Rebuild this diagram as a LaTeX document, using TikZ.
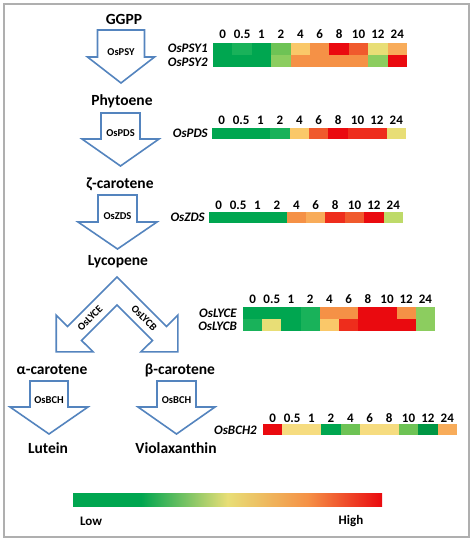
\documentclass[tikz,border=0pt]{standalone}
\usepackage{fontspec}
\setmainfont{Carlito}
\definecolor{arrowblue}{RGB}{84,132,190}
\definecolor{framegray}{RGB}{175,175,175}
\definecolor{hmG}{RGB}{0,166,80}
\definecolor{hmGb}{RGB}{25,178,90}
\definecolor{hmDG}{RGB}{0,150,68}
\definecolor{hmLG}{RGB}{110,195,85}
\definecolor{hmLGb}{RGB}{140,205,95}
\definecolor{hmYG}{RGB}{190,218,105}
\definecolor{hmY}{RGB}{232,222,118}
\definecolor{hmLY}{RGB}{246,220,128}
\definecolor{hmLO}{RGB}{250,200,105}
\definecolor{hmLOb}{RGB}{248,172,90}
\definecolor{hmO}{RGB}{245,145,70}
\definecolor{hmOR}{RGB}{240,90,45}
\definecolor{hmRO}{RGB}{238,45,28}
\definecolor{hmR}{RGB}{234,10,15}
\pgfdeclarehorizontalshading{lowhigh}{100bp}{color(0bp)=(hmG); color(25bp)=(hmG); color(36bp)=(hmG); color(50bp)=(hmY); color(63bp)=(hmO); color(75bp)=(hmR); color(100bp)=(hmR)}

\begin{document}
\begin{tikzpicture}[x=1pt,y=-1pt,
  compound/.style={inner sep=0pt,font=\fontsize{15.5}{17}\selectfont\bfseries},
  gene/.style={anchor=east,inner sep=0pt,font=\fontsize{13}{15}\selectfont\bfseries\itshape},
  num/.style={anchor=base,inner sep=0pt,font=\fontsize{13}{15}\selectfont\bfseries},
  enz/.style={inner sep=0pt,font=\fontsize{10.5}{12}\selectfont\bfseries},
  pathway/.style={draw=arrowblue,line width=1.6pt,line join=miter,fill=white}]
\useasboundingbox (0,0) rectangle (474,543);
\draw[framegray,line width=1.2pt] (4,4) rectangle (469,537);

% compounds
\node[compound] (ggpp) at (124,19) {GGPP};
\node[compound] (phyt) at (122,101) {Phytoene};
\node[compound] (zcar) at (120,184) {ζ-carotene};
\node[compound] (lyc) at (118,262) {Lycopene};
\node[compound] (acar) at (52,370) {α-carotene};
\node[compound] (bcar) at (180,370) {β-carotene};
\node[compound] (lut) at (48,448) {Lutein};
\node[compound] (viol) at (176,448) {Violaxanthin};

% block arrows
\foreach \cx/\ty/\sw/\wy/\ww/\tipy in {121/30/23.5/57/33.5/83, 120.5/113/19.5/139/38.5/166,
    117.5/195/19.5/222/39.5/249, 49/381/19/407/39/434, 176.5/381/19.5/407/38.5/434}
  \draw[pathway] (\cx-\sw,\ty) -- (\cx+\sw,\ty) -- (\cx+\sw,\wy) -- (\cx+\ww,\wy) -- (\cx,\tipy)
    -- (\cx-\ww,\wy) -- (\cx-\sw,\wy) -- cycle;
\draw[pathway] (117,276.9) -- (67.5,326.4) -- (56.2,315.1) -- (56.2,351.8) -- (93,351.8) -- (81.6,340.5)
  -- (117,305.1) -- (152.4,340.5) -- (141,351.8) -- (177.8,351.8) -- (177.8,315.1) -- (166.5,326.4) -- cycle;
\node[enz] (psy) at (121,52) {OsPSY};
\node[enz] (pds) at (120.5,133) {OsPDS};
\node[enz] (zds) at (117.5,216) {OsZDS};
\node[enz,rotate=45] (lyce) at (90,318) {OsLYCE};
\node[enz,rotate=-45] (lycb) at (144,318) {OsLYCB};
\node[enz] (bcha) at (49,400) {OsBCH};
\node[enz] (bchb) at (176.5,400) {OsBCH};

% heat maps
\foreach \c [count=\i from 0] in {hmG,hmGb,hmG,hmLG,hmLO,hmO,hmR,hmOR,hmY,hmLOb}
  \fill[\c] (213+19.4*\i,43) rectangle ++(19.4,12);
\foreach \c [count=\i from 0] in {hmG,hmG,hmG,hmLGb,hmO,hmO,hmO,hmO,hmLGb,hmR}
  \fill[\c] (213+19.4*\i,55) rectangle ++(19.4,12);
\foreach \c [count=\i from 0] in {hmG,hmG,hmG,hmGb,hmLO,hmOR,hmR,hmRO,hmRO,hmY}
  \fill[\c] (212+19.4*\i,128) rectangle ++(19.4,11);
\foreach \c [count=\i from 0] in {hmG,hmG,hmG,hmG,hmO,hmLOb,hmRO,hmOR,hmR,hmYG}
  \fill[\c] (209+19.4*\i,212) rectangle ++(19.4,11);
\foreach \c [count=\i from 0] in {hmG,hmG,hmG,hmGb,hmO,hmO,hmR,hmR,hmO,hmLGb}
  \fill[\c] (243+19.2*\i,307) rectangle ++(19.2,12);
\foreach \c [count=\i from 0] in {hmGb,hmY,hmG,hmGb,hmLO,hmRO,hmR,hmR,hmR,hmLGb}
  \fill[\c] (243+19.2*\i,319) rectangle ++(19.2,12);
\foreach \c [count=\i from 0] in {hmR,hmLY,hmLY,hmG,hmLG,hmLY,hmLY,hmLG,hmDG,hmLOb}
  \fill[\c] (263+19.4*\i,424) rectangle ++(19.4,11);

% time points
\foreach \hx/\hy/\hw/\hn in {213/39/19.4/psy, 212/124/19.4/pds, 209/209.5/19.4/zds, 243/303/19.2/lyc, 263/422/19.4/bch}
  \foreach \t [count=\i from 0] in {0,0.5,1,2,4,6,8,10,12,24}
    \node[num] (\hn t\i) at (\hx+\hw*\i+\hw/2,\hy) {\t};

% gene names
\node[gene] (psy1) at (208,48.5) {OsPSY1};
\node[gene] (psy2) at (208,62) {OsPSY2};
\node[gene] (pdsg) at (208,133.5) {OsPDS};
\node[gene] (zdsg) at (205,217.5) {OsZDS};
\node[gene] (lyceg) at (237,313) {OsLYCE};
\node[gene] (lycbg) at (237,326) {OsLYCB};
\node[gene] (bch2) at (257,430) {OsBCH2};

% colour key
\shade[shading=lowhigh] (73,493) rectangle (382,506);
\node[num,anchor=center] (low) at (91,521) {Low};
\node[num,anchor=center] (high) at (351,521) {High};
\end{tikzpicture}
\end{document}
